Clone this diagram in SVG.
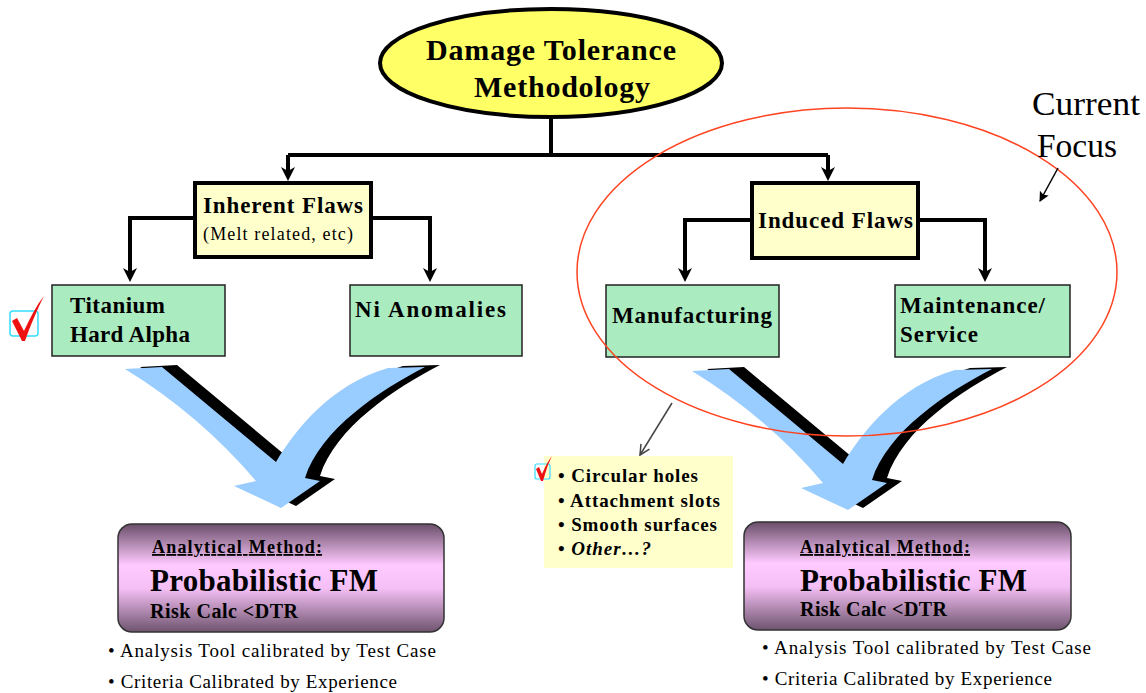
<svg xmlns="http://www.w3.org/2000/svg" width="1146" height="693" viewBox="0 0 1146 693">
<defs>
<style>
.t{font-family:"Liberation Serif","Times New Roman",serif;fill:#000}
.b{font-weight:bold}
.box{fill:#ffffcc;stroke:#000;stroke-width:4}
.leaf{fill:#aaebc0;stroke:#222;stroke-width:1.5}
.conn{fill:none;stroke:#000;stroke-width:4}
.res{stroke:#333;stroke-width:1.5}
</style>
<marker id="ah" viewBox="0 0 14 14" markerWidth="14" markerHeight="14" refX="4" refY="7" orient="auto" markerUnits="userSpaceOnUse">
<path d="M0,0 L14,7 L0,14 L4,7 z" fill="#000"/>
</marker>
<marker id="ah2" viewBox="0 0 10 10" markerWidth="10" markerHeight="10" refX="9" refY="5" orient="auto" markerUnits="userSpaceOnUse">
<path d="M0,0 L10,5 L0,10 L2,5 z" fill="#000"/>
</marker>
<marker id="ah3" viewBox="0 0 12 12" markerWidth="12" markerHeight="12" refX="11" refY="6" orient="auto" markerUnits="userSpaceOnUse">
<path d="M1,1 L11,6 L1,11" fill="none" stroke="#444" stroke-width="1.5"/>
</marker>
<linearGradient id="pg" x1="0" y1="0" x2="0" y2="1">
<stop offset="0" stop-color="#6a4e6a"/>
<stop offset="0.38" stop-color="#ffcaff"/>
<stop offset="0.6" stop-color="#f4bff4"/>
<stop offset="1" stop-color="#6e546e"/>
</linearGradient>
<path id="vArrow" d="M125,369 L162,367 L276,462 C295,430 330,385 388,368 L425,367 C380,390 320,430 305,478 L320,481 L281,508 L234,486 L256,481 Q200,415 125,369 Z"/>
</defs>

<g id="connectors">
<path class="conn" d="M551,117 V155"/>
<path class="conn" d="M288,155 H828"/>
<path class="conn" d="M288,155 V171" marker-end="url(#ah)"/>
<path class="conn" d="M828,155 V171" marker-end="url(#ah)"/>
<path class="conn" d="M195,218 H130 V272" marker-end="url(#ah)"/>
<path class="conn" d="M371,218 H430 V272" marker-end="url(#ah)"/>
<path class="conn" d="M752,220 H685 V272" marker-end="url(#ah)"/>
<path class="conn" d="M918,220 H985 V272" marker-end="url(#ah)"/>
</g>

<g id="flow-arrows">
<use href="#vArrow" fill="#000" transform="translate(15,-2)"/>
<use href="#vArrow" fill="#99ccff"/>
<use href="#vArrow" fill="#000" transform="translate(582,0)"/>
<use href="#vArrow" fill="#99ccff" transform="translate(567,2)"/>
</g>

<g id="root">
<ellipse cx="551" cy="63" rx="171" ry="54" fill="#ffff66" stroke="#000" stroke-width="4"/>
<text class="t b" x="551" y="60" font-size="30" text-anchor="middle" textLength="250" lengthAdjust="spacing">Damage Tolerance</text>
<text class="t b" x="562" y="97" font-size="30" text-anchor="middle" textLength="176" lengthAdjust="spacing">Methodology</text>
</g>

<g id="inherent">
<rect class="box" x="195" y="183" width="176" height="74"/>
<text class="t b" x="203" y="213" font-size="23" textLength="160" lengthAdjust="spacing">Inherent Flaws</text>
<text class="t" x="203" y="240" font-size="18" textLength="150" lengthAdjust="spacing">(Melt related, etc)</text>
</g>

<g id="induced">
<rect class="box" x="752" y="183" width="166" height="75"/>
<text class="t b" x="758" y="228" font-size="23" textLength="155" lengthAdjust="spacing">Induced Flaws</text>
</g>

<g id="titanium">
<rect class="leaf" x="52" y="285" width="173" height="71"/>
<text class="t b" x="70" y="313" font-size="23" textLength="95" lengthAdjust="spacing">Titanium</text>
<text class="t b" x="70" y="342" font-size="23" textLength="120" lengthAdjust="spacing">Hard Alpha</text>
</g>

<g id="ni">
<rect class="leaf" x="350" y="285" width="172" height="71"/>
<text class="t b" x="355" y="317" font-size="23" textLength="151" lengthAdjust="spacing">Ni Anomalies</text>
</g>

<g id="manufacturing">
<rect class="leaf" x="606" y="285" width="173" height="72"/>
<text class="t b" x="612" y="323" font-size="23" textLength="160" lengthAdjust="spacing">Manufacturing</text>
</g>

<g id="maintenance">
<rect class="leaf" x="895" y="285" width="175" height="72"/>
<text class="t b" x="900" y="313" font-size="23" textLength="145" lengthAdjust="spacing">Maintenance/</text>
<text class="t b" x="900" y="342" font-size="23" textLength="78" lengthAdjust="spacing">Service</text>
</g>

<g id="focus">
<ellipse cx="847" cy="272" rx="270" ry="164" fill="none" stroke="#ff4422" stroke-width="1.5"/>
<text class="t" x="1032" y="115" font-size="33" textLength="108" lengthAdjust="spacingAndGlyphs">Current</text>
<text class="t" x="1037" y="157" font-size="33" textLength="80" lengthAdjust="spacingAndGlyphs">Focus</text>
<line x1="1058" y1="168" x2="1040" y2="201" stroke="#000" stroke-width="1.5" marker-end="url(#ah2)"/>
<line x1="672" y1="403" x2="640" y2="455" stroke="#444" stroke-width="1.5" marker-end="url(#ah3)"/>
</g>

<g id="check-titanium">
<rect x="10" y="311" width="28" height="25" rx="3" fill="none" stroke="#33ddff" stroke-width="1.5"/>
<path d="M12,321 L17,318 L24,331 C30,318 36,306 44,296 C37,310 31,324 25,341 L22,341 Z" fill="#ee1111"/>
</g>

<g id="locations">
<rect x="544" y="456" width="189" height="112" fill="#ffffcc"/>
<rect x="535" y="464" width="15" height="15" rx="2" fill="none" stroke="#33ddff" stroke-width="1.2"/>
<path d="M536,469 L539,467 L542,474 C545,467 548,461 552,456 C548,464 546,471 543,481 L541,481 Z" fill="#ee1111"/>
<text class="t b" x="558" y="482" font-size="19" textLength="140" lengthAdjust="spacing">• Circular  holes</text>
<text class="t b" x="558" y="507" font-size="19" textLength="162" lengthAdjust="spacing">• Attachment  slots</text>
<text class="t b" x="558" y="531" font-size="19" textLength="159" lengthAdjust="spacing">• Smooth  surfaces</text>
<text class="t b" x="558" y="555" font-size="19" textLength="93" lengthAdjust="spacing">• <tspan font-style="italic">Other…?</tspan></text>
</g>

<g id="result-left">
<rect class="res" x="118" y="524" width="326" height="108" rx="14" fill="url(#pg)"/>
<text class="t b" x="152" y="553" font-size="18" text-decoration="underline" textLength="170" lengthAdjust="spacing">Analytical  Method:</text>
<text class="t b" x="150" y="591" font-size="31" textLength="228" lengthAdjust="spacing">Probabilistic FM</text>
<text class="t b" x="150" y="618" font-size="20" textLength="148" lengthAdjust="spacing">Risk Calc &lt;DTR</text>
<text class="t" x="108" y="657" font-size="19" textLength="328" lengthAdjust="spacing">• Analysis  Tool calibrated  by Test Case</text>
<text class="t" x="108" y="688" font-size="19" textLength="289" lengthAdjust="spacing">• Criteria  Calibrated  by Experience</text>
</g>

<g id="result-right">
<rect class="res" x="744" y="522" width="327" height="108" rx="14" fill="url(#pg)"/>
<text class="t b" x="800" y="553" font-size="18" text-decoration="underline" textLength="170" lengthAdjust="spacing">Analytical  Method:</text>
<text class="t b" x="800" y="591" font-size="31" textLength="227" lengthAdjust="spacing">Probabilistic FM</text>
<text class="t b" x="800" y="616" font-size="20" textLength="147" lengthAdjust="spacing">Risk Calc &lt;DTR</text>
<text class="t" x="762" y="654" font-size="19" textLength="329" lengthAdjust="spacing">• Analysis  Tool calibrated  by Test Case</text>
<text class="t" x="762" y="685" font-size="19" textLength="290" lengthAdjust="spacing">• Criteria  Calibrated  by Experience</text>
</g>
</svg>
